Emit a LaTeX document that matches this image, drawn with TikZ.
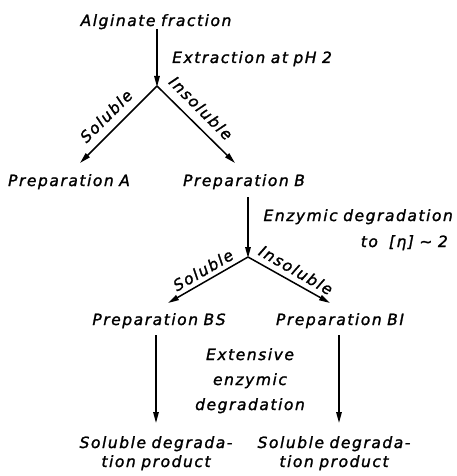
\documentclass[tikz,border=0pt]{standalone}
\usepackage{fontspec}
\newfontfamily\labfont{DejaVu Sans}[LetterSpace=10,WordSpace=0.85,RawFeature={embolden=1.5}]
\usetikzlibrary{arrows.meta}
\tikzset{
  lbl/.style={inner sep=0pt, font=\labfont\itshape\fontsize{15.5}{25}\selectfont},
  arr/.style={line width=1.5pt, -{Triangle[length=11pt,width=5.5pt]}},
}
\begin{document}
\begin{tikzpicture}[x=1pt,y=-1pt]
\useasboundingbox (0,0) rectangle (457,476);
% nodes
\node[lbl, anchor=base] (alg) at (156,26) {Alginate fraction};
\node[lbl, anchor=base west] (ext) at (172,63) {Extraction at pH 2};
\coordinate (J1) at (157,86);
\coordinate (tA) at (80,163);
\coordinate (tB) at (235,163);
\node[lbl, rotate=45] (sol1) at (106,116) {Soluble};
\node[lbl, rotate=-45] (ins1) at (201,108) {Insoluble};
\node[lbl, anchor=base] (pA) at (69,186) {Preparation A};
\node[lbl, anchor=base] (pB) at (244,186) {Preparation B};
\node[lbl, anchor=base east] (enz) at (453,221) {Enzymic degradation};
\node[lbl, anchor=base east] (eta) at (448,247) {to\ \ [η] ∼ 2};
\coordinate (J2) at (248,257);
\coordinate (tBS) at (168,303);
\coordinate (tBI) at (330,303);
\node[lbl, rotate=30] (sol2) at (203,270) {Soluble};
\node[lbl, rotate=-30] (ins2) at (296,270) {Insoluble};
\node[lbl, anchor=base] (pBS) at (159,325) {Preparation BS};
\node[lbl, anchor=base] (pBI) at (340,325) {Preparation BI};
\node[lbl, align=center, anchor=base] (exten) at (250,410) {Extensive\\enzymic\\degradation};
\node[lbl, align=center, anchor=base, font=\labfont\itshape\fontsize{15.5}{19}\selectfont] (sdp1) at (156,467) {Soluble degrada-\\tion product};
\node[lbl, align=center, anchor=base, font=\labfont\itshape\fontsize{15.5}{19}\selectfont] (sdp2) at (334,467) {Soluble degrada-\\tion product};
\coordinate (s3a) at (156,335);
\coordinate (e3a) at (156,423);
\coordinate (s3b) at (339,335);
\coordinate (e3b) at (339,423);
\coordinate (s2) at (248,197);
% connectors
\draw[arr] (alg.south -| J1) -- ([yshift=-1pt]J1);
\draw[arr] (J1) -- (tA);
\draw[arr] (J1) -- (tB);
\draw[arr] (s2) -- ([yshift=-1pt]J2);
\draw[arr] (J2) -- (tBS);
\draw[arr] (J2) -- (tBI);
\draw[arr] (s3a) -- (e3a);
\draw[arr] (s3b) -- (e3b);
\end{tikzpicture}
\end{document}
